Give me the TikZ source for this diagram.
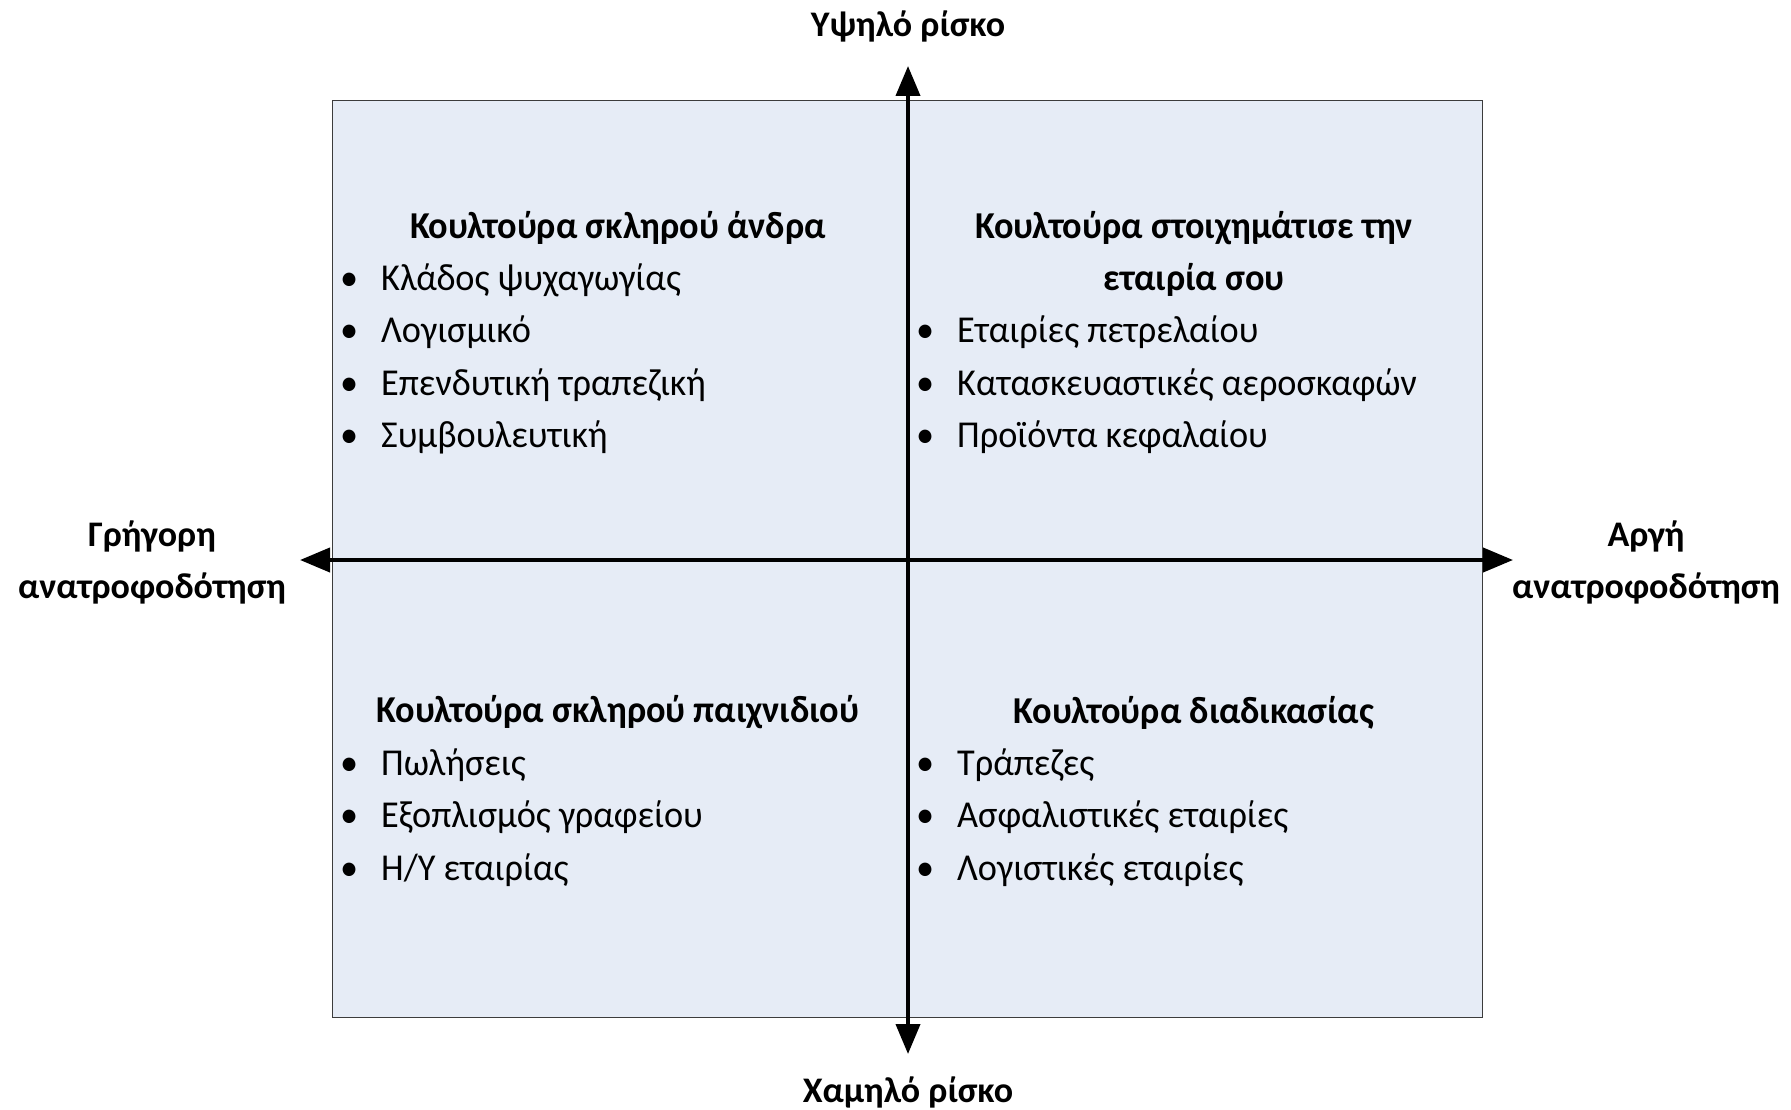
\documentclass[tikz,border=0pt]{standalone}
\usepackage{fontspec}
\setmainfont{Carlito}
\newfontfamily\narrowfont[FakeStretch=0.955]{Carlito}
\usetikzlibrary{arrows.meta}
\definecolor{quadfill}{RGB}{230,236,246}
\definecolor{quadline}{RGB}{60,60,60}
\tikzset{
  axis/.style={line width=4pt, -{Triangle[length=30pt,width=24pt]}},
  title/.style={font=\narrowfont\fontsize{38}{46}\selectfont\bfseries, align=center, anchor=center, inner sep=0pt},
  item/.style={font=\narrowfont\fontsize{38}{46}\selectfont, anchor=west, inner sep=0pt},
  axlabel/.style={font=\fontsize{36}{52}\selectfont\bfseries, align=center, inner sep=0pt}
}
\newcommand{\bul}{\makebox[41pt][l]{\textbullet}}
\begin{document}
\begin{tikzpicture}[x=1pt,y=-1pt]
\useasboundingbox (0,0) rectangle (1791,1110);
\node[draw=quadline, line width=1.5pt, fill=quadfill, minimum width=1150pt, minimum height=917pt, inner sep=0pt] (box) at (907.5,559) {};
\coordinate (c) at (908,560);
\coordinate (top) at (908,66);
\coordinate (bot) at (908,1054);
\coordinate (lft) at (300,560);
\coordinate (rgt) at (1513,560);
\coordinate (vs) at (908,100);
\coordinate (ve) at (908,1018);
\draw[line width=4pt] (vs) -- (ve);
\draw[axis] (c) -- (top);
\draw[axis] (c) -- (bot);
\draw[axis] (c) -- (lft);
\draw[axis] (c) -- (rgt);
% axis labels
\node[axlabel] (hi) at (908,26) {Υψηλό ρίσκο};
\node[axlabel] (lo) at (908,1092) {Χαμηλό ρίσκο};
\node[axlabel] (fast) at (152,562) {Γρήγορη\\ανατροφοδότηση};
\node[axlabel] (slow) at (1646,562) {Αργή\\ανατροφοδότηση};
% top-left
\node[title] (tlt) at (618,227.5) {Κουλτούρα σκληρού άνδρα};
\node[item] (tl1) at (340,280) {\bul Κλάδος ψυχαγωγίας};
\node[item] (tl2) at (340,332.5) {\bul Λογισμικό};
\node[item] (tl3) at (340,385) {\bul Επενδυτική τραπεζική};
\node[item] (tl4) at (340,437.5) {\bul Συμβουλευτική};
% top-right
\node[title] (trt) at (1194,253.5) {Κουλτούρα στοιχημάτισε την\\[6pt]εταιρία σου};
\node[item] (tr1) at (916,332.5) {\bul Εταιρίες πετρελαίου};
\node[item] (tr2) at (916,385) {\bul Κατασκευαστικές αεροσκαφών};
\node[item] (tr3) at (916,437.5) {\bul Προϊόντα κεφαλαίου};
% bottom-left
\node[title] (blt) at (618,712.5) {Κουλτούρα σκληρού παιχνιδιού};
\node[item] (bl1) at (340,765) {\bul Πωλήσεις};
\node[item] (bl2) at (340,817.5) {\bul Εξοπλισμός γραφείου};
\node[item] (bl3) at (340,870) {\bul Η/Υ εταιρίας};
% bottom-right
\node[title] (brt) at (1194,712.5) {Κουλτούρα διαδικασίας};
\node[item] (br1) at (916,765) {\bul Τράπεζες};
\node[item] (br2) at (916,817.5) {\bul Ασφαλιστικές εταιρίες};
\node[item] (br3) at (916,870) {\bul Λογιστικές εταιρίες};
\end{tikzpicture}
\end{document}
